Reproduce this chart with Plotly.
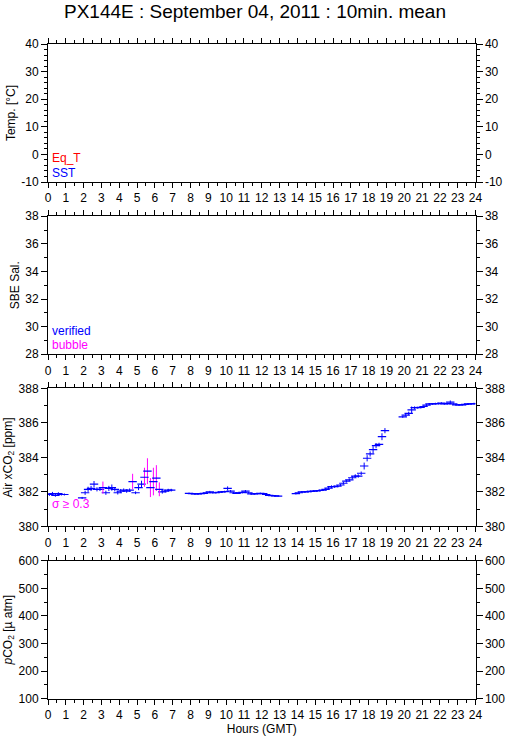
import plotly.graph_objects as go

# ---------------- data ----------------
# minutes after 00:00 GMT (10-minute means), Air xCO2 [ppm], std dev [ppm]
minutes = [5, 15, 25, 35, 45, 55,
           115, 125, 135, 145, 155, 165, 175, 185, 195, 205, 215, 225, 235, 245, 255, 265,
           275, 285, 295, 305, 315, 325, 335, 345, 355, 365, 375, 385, 395, 405, 415,
           475, 485, 495, 505, 515, 525, 535, 545, 555, 565, 575, 585, 595, 605, 615, 625,
           635, 645, 655, 665, 675, 685, 695, 705, 715, 725, 735, 745, 755, 765, 775,
           835, 845, 855, 865, 875, 885, 895, 905, 915, 925, 935, 945, 955, 965, 975, 985,
           995, 1005, 1015, 1025, 1035, 1045, 1055, 1065, 1075, 1085, 1095, 1105, 1115, 1125, 1135,
           1195, 1205, 1215, 1225, 1235, 1245, 1255, 1265, 1275, 1285, 1295, 1305, 1315,
           1325, 1335, 1345, 1355, 1365, 1375, 1385, 1395, 1405, 1415, 1425, 1435]

xco2 = [381.85, 381.90, 381.80, 381.90, 381.85, 381.85,
        381.65, 381.95, 382.15, 382.20, 382.45, 382.15, 382.15, 382.25, 381.95, 382.20, 382.25,
        382.15, 381.95, 382.05, 382.10, 382.05, 382.10, 382.60, 381.95, 382.25, 382.45, 382.85,
        383.20, 382.25, 382.60, 382.80, 382.15, 382.00, 382.05, 382.10, 382.10,
        381.92, 381.90, 381.88, 381.88, 381.90, 381.92, 381.95, 382.00, 381.95, 381.95, 381.98,
        382.00, 382.02, 382.20, 382.05, 381.95, 381.92, 381.95, 381.97, 382.05, 381.95, 381.88,
        381.88, 381.90, 381.92, 381.90, 381.85, 381.80, 381.78, 381.77, 381.75,
        381.90, 381.95, 382.00, 382.00, 382.02, 382.03, 382.05, 382.06, 382.08, 382.10, 382.15,
        382.22, 382.30, 382.30, 382.33, 382.40, 382.50, 382.62, 382.70, 382.82, 382.92, 382.92,
        383.08, 383.50, 383.95, 384.20, 384.45, 384.68, 384.75, 385.20, 385.55,
        386.35, 386.45, 386.55, 386.75, 386.88, 386.88, 386.90, 386.95, 387.03, 387.10, 387.10,
        387.12, 387.12, 387.15, 387.10, 387.12, 387.20, 387.10, 387.05, 387.05, 387.05, 387.07,
        387.10, 387.10, 387.12]

sigma = [0.08, 0.10, 0.08, 0.08, 0.06, 0.06,
         0.06, 0.12, 0.15, 0.15, 0.18, 0.12, 0.10, 0.35, 0.12, 0.15, 0.18,
         0.12, 0.10, 0.12, 0.10, 0.10, 0.10, 0.45, 0.08, 0.15, 0.20, 0.55,
         0.75, 0.55, 0.80, 0.75, 0.40, 0.10, 0.08, 0.08, 0.08,
         0.04, 0.04, 0.04, 0.04, 0.04, 0.05, 0.06, 0.06, 0.04, 0.04, 0.05,
         0.05, 0.05, 0.12, 0.06, 0.04, 0.04, 0.04, 0.05, 0.06, 0.04, 0.04,
         0.04, 0.04, 0.04, 0.04, 0.04, 0.03, 0.03, 0.03, 0.03,
         0.05, 0.06, 0.05, 0.05, 0.05, 0.05, 0.05, 0.05, 0.05, 0.05, 0.06,
         0.06, 0.08, 0.06, 0.06, 0.06, 0.08, 0.08, 0.08, 0.10, 0.10, 0.10,
         0.10, 0.20, 0.18, 0.15, 0.20, 0.15, 0.10, 0.20, 0.15,
         0.06, 0.08, 0.10, 0.20, 0.08, 0.05, 0.05, 0.05, 0.06, 0.05, 0.05,
         0.05, 0.05, 0.05, 0.05, 0.05, 0.10, 0.05, 0.04, 0.04, 0.04, 0.05,
         0.05, 0.05, 0.05]

SIGMA_LIMIT = 0.3
hour_ticks = list(range(0, 25))
temp_ticks = [-10, 0, 10, 20, 30, 40]
sal_ticks = [28, 30, 32, 34, 36, 38]
xco2_ticks = [380, 382, 384, 386, 388]
pco2_ticks = [100, 200, 300, 400, 500, 600]
title_text = "PX144E : September 04, 2011 : 10min. mean"

# ---------------- figure ----------------
W, H = 509, 739
FONT = "Liberation Sans, Arial, sans-serif"
BLUE, MAG, RED = "#0000ff", "#ff00ff", "#ff0000"

hours = [m / 60.0 for m in minutes]
lo = [i for i, s in enumerate(sigma) if s < SIGMA_LIMIT]
hi = [i for i, s in enumerate(sigma) if s >= SIGMA_LIMIT]

fig = go.Figure()


def add_group(idx, ecolor):
    fig.add_trace(go.Scatter(
        x=[hours[i] for i in idx], y=[xco2[i] for i in idx],
        mode="markers", xaxis="x3", yaxis="y3",
        marker=dict(symbol="line-ew", size=6, color=BLUE,
                    line=dict(color=BLUE, width=1.2)),
        error_y=dict(type="data", array=[sigma[i] for i in idx], visible=True,
                     color=ecolor, thickness=1, width=0),
        showlegend=False, hoverinfo="x+y"))


add_group(lo, BLUE)
add_group(hi, MAG)

for k in (1, 2, 4):
    sfx = "" if k == 1 else str(k)
    fig.add_trace(go.Scatter(x=[], y=[], xaxis="x" + sfx, yaxis="y" + sfx,
                             showlegend=False))

x0, x1 = 48 / W, 475.5 / W
tops = [44, 216.2, 388.4, 560.7]
ph = 138
panels = [
    dict(rng=[-10, 40], ticks=temp_ticks, minor=2, title="Temp. [°C]"),
    dict(rng=[28, 38], ticks=sal_ticks, minor=1, title="SBE Sal."),
    dict(rng=[380, 388], ticks=xco2_ticks, minor=1, title="Air xCO<sub>2</sub> [ppm]"),
    dict(rng=[100, 600], ticks=pco2_ticks, minor=50, title="<i>p</i>CO<sub>2</sub> [µ atm]"),
]

tickfont = dict(family=FONT, size=12, color="black")
layout = dict(width=W, height=H, margin=dict(l=0, r=0, t=0, b=0, autoexpand=False),
              paper_bgcolor="white", plot_bgcolor="white",
              font=dict(family=FONT, size=12, color="black"),
              showlegend=False)

for k, p in enumerate(panels, start=1):
    sfx = "" if k == 1 else str(k)
    top = tops[k - 1]
    dom = [1 - (top + ph) / H, 1 - top / H]
    xa = dict(
        domain=[x0, x1], anchor="y" + sfx, range=[0, 24], automargin=False,
        tickmode="array", tickvals=hour_ticks, ticktext=[str(h) for h in hour_ticks],
        ticks="outside", ticklen=5, tickcolor="black", mirror="ticks",
        showline=True, linecolor="black", linewidth=1,
        showgrid=False, zeroline=False, tickfont=tickfont,
        minor=dict(dtick=0.5, tick0=0, ticks="outside", ticklen=3, tickcolor="black"),
    )
    if k == 4:
        xa["title"] = dict(text="Hours (GMT)", font=dict(size=12), standoff=0)
    layout["xaxis" + sfx] = xa
    tt = [str(v) for v in p["ticks"]]
    layout["yaxis" + sfx] = dict(
        domain=dom, anchor="x" + sfx, range=p["rng"], automargin=False,
        tickmode="array", tickvals=p["ticks"], ticktext=tt,
        ticks="outside", ticklen=6, tickcolor="black", mirror=True,
        showline=True, linecolor="black", linewidth=1,
        showgrid=False, zeroline=False, tickfont=tickfont,
        minor=dict(dtick=p["minor"], tick0=p["rng"][0], ticks="outside", ticklen=3,
                   tickcolor="black"),
        title=dict(text=p["title"], font=dict(size=12), standoff=3),
    )
    layout["yaxis" + str(k + 4)] = dict(
        overlaying="y" + sfx, side="right", anchor="x" + sfx, automargin=False,
        range=p["rng"], tickmode="array", tickvals=p["ticks"], ticktext=tt,
        ticks="outside", ticklen=6, tickcolor="black",
        minor=dict(dtick=p["minor"], tick0=p["rng"][0], ticks="outside", ticklen=3,
                   tickcolor="black"),
        showline=False, showgrid=False, zeroline=False,
        tickfont=tickfont,
    )

for k in range(1, 5):
    sfx = "" if k == 1 else str(k)
    fig.add_trace(go.Scatter(x=[None], y=[None], xaxis="x" + sfx,
                             yaxis="y" + str(k + 4), showlegend=False))

fig.update_layout(**layout)


def label(text, xpx, ypx, color):
    fig.add_annotation(text=text, xref="paper", yref="paper",
                       x=xpx / W, y=1 - ypx / H, xanchor="left", yanchor="middle",
                       showarrow=False, font=dict(family=FONT, size=12, color=color))


label("Eq_T", 50, 158, RED)
label("SST", 50, 173, BLUE)
label("verified", 50, 331, BLUE)
label("bubble", 50, 345, MAG)
label("σ ≥ 0.3", 50, 504, MAG)

fig.add_annotation(text=title_text, xref="paper", yref="paper", x=0.5, y=1 - 12 / H,
                   xanchor="center", yanchor="middle", showarrow=False,
                   font=dict(family=FONT, size=19, color="black"))

fig.write_html("out.html",
               config={"displayModeBar": False},
               post_script="document.documentElement.style.margin='0';"
                           "document.body.style.margin='0';"
                           "document.body.style.overflow='hidden';")
